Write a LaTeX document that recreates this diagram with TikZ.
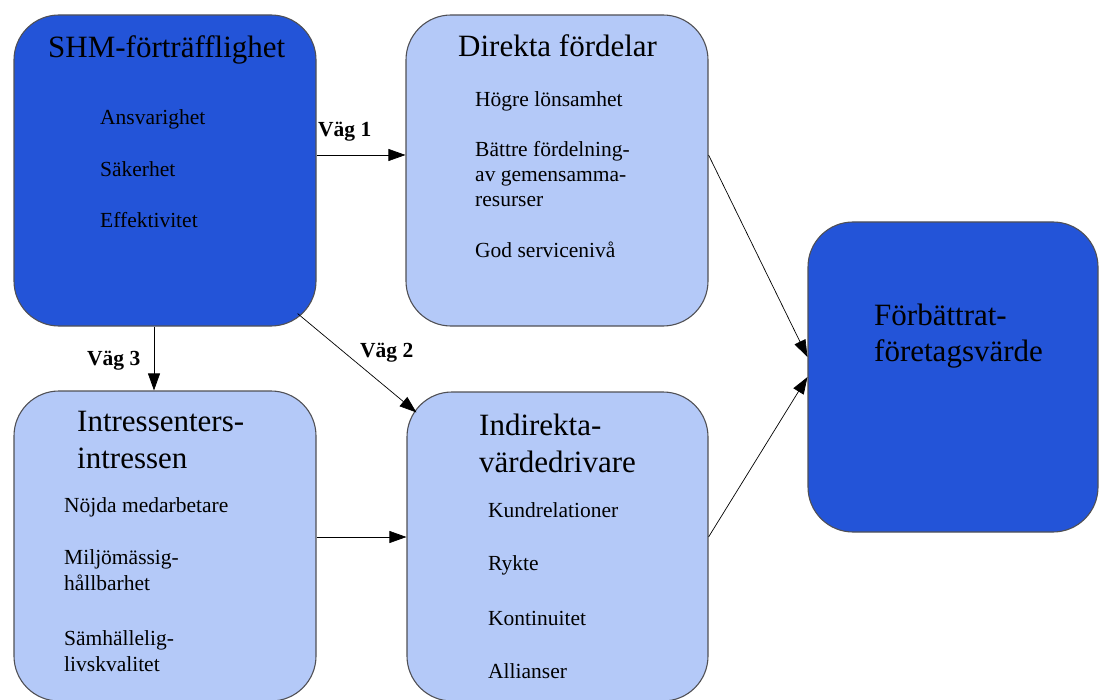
\documentclass[tikz,border=0pt]{standalone}
\usepackage{fontspec}
\setmainfont{Liberation Serif}
\usetikzlibrary{arrows.meta}
\definecolor{darkfill}{RGB}{35,84,216}
\definecolor{lightfill}{RGB}{180,201,248}
\definecolor{edgegray}{RGB}{80,80,85}
\begin{document}
\begin{tikzpicture}[x=1pt,y=-1pt,
  box/.style={draw=edgegray, line width=1.1pt, rounded corners=45pt, inner sep=0pt},
  darkbox/.style={box, fill=darkfill},
  lightbox/.style={box, fill=lightfill},
  title/.style={anchor=base west, inner sep=0pt, font=\fontsize{31}{36}\selectfont},
  item/.style={anchor=base west, inner sep=0pt, font=\fontsize{21.5}{25}\selectfont},
  path/.style={anchor=base west, inner sep=0pt, font=\fontsize{21.5}{25}\selectfont\bfseries},
  link/.style={draw=black, line width=0.7pt, -{Triangle[length=17pt,width=12pt]}}]
\useasboundingbox (0,0) rectangle (1099,700);

% boxes
\node[darkbox,  minimum width=302pt, minimum height=311pt] (shm) at (165,170.5) {};
\node[lightbox, minimum width=302pt, minimum height=311pt] (dir) at (557,170.5) {};
\node[darkbox,  minimum width=290pt, minimum height=310pt] (fin) at (953,377) {};
\node[lightbox, minimum width=302pt, minimum height=310pt] (int) at (165,546) {};
\node[lightbox, minimum width=301pt, minimum height=309pt] (ind) at (557.5,546.5) {};

% SHM-förträfflighet (multi-line texts are placed by their last baseline)
\node[title] (shmT) at (48,58) {SHM-förträfflighet};
\node[item] (shm1) at (100,125) {Ansvarighet};
\node[item] (shm2) at (100,177) {Säkerhet};
\node[item] (shm3) at (100,228) {Effektivitet};

% Direkta fördelar
\node[title] (dirT) at (458,57) {Direkta fördelar};
\node[item] (dir1) at (475,107) {Högre lönsamhet};
\node[item, align=left] (dir2) at (475,207) {Bättre fördelning-\\av gemensamma-\\resurser};
\node[item] (dir3) at (475,258) {God servicenivå};

% Förbättrat företagsvärde
\node[title, align=left, font=\fontsize{31}{36}\selectfont] (finT) at (874,361) {Förbättrat-\\företagsvärde};

% Intressenters intressen
\node[title, align=left, font=\fontsize{31}{37}\selectfont] (intT) at (77,468) {Intressenters-\\intressen};
\node[item] (int1) at (64,512) {Nöjda medarbetare};
\node[item, align=left, font=\fontsize{21.5}{26}\selectfont] (int2) at (64,590) {Miljömässig-\\hållbarhet};
\node[item, align=left, font=\fontsize{21.5}{26}\selectfont] (int3) at (64,671) {Sämhällelig-\\livskvalitet};

% Indirekta värdedrivare
\node[title, align=left, font=\fontsize{31}{37}\selectfont] (indT) at (479,472) {Indirekta-\\värdedrivare};
\node[item] (ind1) at (488,517) {Kundrelationer};
\node[item] (ind2) at (488,570) {Rykte};
\node[item] (ind3) at (488,625) {Kontinuitet};
\node[item] (ind4) at (488,678) {Allianser};

% connectors
\draw[link] ([yshift=15.5pt]shm.east) -- ([yshift=15.5pt]dir.west);
\draw[link] ([xshift=-19pt,yshift=13pt]shm.south east) -- ([xshift=10pt,yshift=-21pt]ind.north west);
\draw[link] ([xshift=-11pt]shm.south) -- ([xshift=-11pt]int.north);
\draw[link] ([yshift=9pt]int.east) -- ([yshift=9.5pt]ind.west);
\draw[link] ([yshift=15.5pt]dir.east) -- ([yshift=20pt]fin.west);
\draw[link] ([yshift=9.5pt]ind.east) -- (fin.west);

% path labels
\node[path] (v1) at (318,137) {Väg 1};
\node[path] (v2) at (360,357) {Väg 2};
\node[path] (v3) at (87,365) {Väg 3};
\end{tikzpicture}
\end{document}
